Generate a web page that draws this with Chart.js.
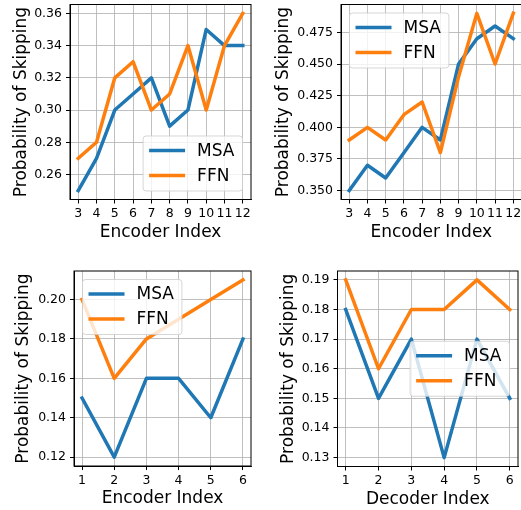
<!DOCTYPE html>
<html>
<head>
<meta charset="utf-8">
<script src="https://cdn.jsdelivr.net/npm/chart.js@4.4.0/dist/chart.umd.min.js"></script>
<style>
html, body { margin: 0; padding: 0; background: #fff; overflow: hidden; width: 521px; height: 510px; }
canvas { position: absolute; }
</style>
</head>
<body>
<canvas id="c1" width="260" height="255" style="left:0;top:0"></canvas>
<canvas id="c2" width="271" height="255" style="left:260px;top:0"></canvas>
<canvas id="c3" width="260" height="255" style="left:0;top:255px"></canvas>
<canvas id="c4" width="261" height="255" style="left:260px;top:255px"></canvas>
<script>
// indices on the x axes
const encoderIdxA = [3, 4, 5, 6, 7, 8, 9, 10, 11, 12];
const encoderIdxB = [1, 2, 3, 4, 5, 6];
const decoderIdx = [1, 2, 3, 4, 5, 6];

// top left
const p1Msa = [0.25, 0.27, 0.30, 0.31, 0.32, 0.29, 0.30, 0.35, 0.34, 0.34];
const p1Ffn = [0.27, 0.28, 0.32, 0.33, 0.30, 0.31, 0.34, 0.30, 0.34, 0.36];
const p1YLabels = ['0.26', '0.28', '0.30', '0.32', '0.34', '0.36'];

// top right
const p2Msa = [0.35, 0.37, 0.36, 0.38, 0.40, 0.39, 0.45, 0.47, 0.48, 0.47];
const p2Ffn = [0.39, 0.40, 0.39, 0.41, 0.42, 0.38, 0.44, 0.49, 0.45, 0.49];
const p2YLabels = ['0.350', '0.375', '0.400', '0.425', '0.450', '0.475'];

// bottom left
const p3Msa = [0.15, 0.12, 0.16, 0.16, 0.14, 0.18];
const p3Ffn = [0.20, 0.16, 0.18, 0.19, 0.20, 0.21];
const p3YLabels = ['0.12', '0.14', '0.16', '0.18', '0.20'];

// bottom right
const p4Msa = [0.18, 0.15, 0.17, 0.13, 0.17, 0.15];
const p4Ffn = [0.19, 0.16, 0.18, 0.18, 0.19, 0.18];
const p4YLabels = ['0.13', '0.14', '0.15', '0.16', '0.17', '0.18', '0.19'];

const seriesNames = ['MSA', 'FFN'];
const BLUE = '#1f77b4';
const ORANGE = '#ff7f0e';
const FONT = 'DejaVu Sans';

Chart.defaults.font.family = FONT;
Chart.defaults.color = '#000';

// spines on all four sides + matplotlib style legend box
const frameLegend = {
    id: 'frameLegend',
    afterDraw(chart, args, opts) {
        const ctx = chart.ctx;
        const a = chart.chartArea;
        ctx.save();
        ctx.strokeStyle = '#000';
        ctx.lineWidth = 1;
        ctx.strokeRect(a.left, a.top, a.right - a.left, a.bottom - a.top);

        ctx.font = '17px "' + FONT + '"';
        const sets = chart.data.datasets;
        const textW = Math.max(...sets.map(d => ctx.measureText(d.label).width));
        const w = 6 + 36 + 12 + textW + 8;
        const h = 55;
        const pad = 8.5;
        let x, y;
        if (opts.loc === 'lower right') { x = a.right - pad - w; y = a.bottom - pad - h; }
        else if (opts.loc === 'upper left') { x = a.left + pad; y = a.top + pad; }
        else { x = a.right - pad - w; y = (a.top + a.bottom) / 2 - h / 2; }

        ctx.beginPath();
        ctx.roundRect(x, y, w, h, 3);
        ctx.fillStyle = 'rgba(255,255,255,0.8)';
        ctx.fill();
        ctx.strokeStyle = 'rgba(204,204,204,0.8)';
        ctx.stroke();

        sets.forEach((d, i) => {
            const ry = y + 14.5 + i * 25;
            ctx.beginPath();
            ctx.moveTo(x + 6, ry);
            ctx.lineTo(x + 42, ry);
            ctx.strokeStyle = d.borderColor;
            ctx.lineWidth = 3.5;
            ctx.stroke();
            ctx.fillStyle = '#000';
            ctx.textBaseline = 'middle';
            ctx.textAlign = 'left';
            ctx.fillText(d.label, x + 54, ry + 1);
        });
        ctx.restore();
    }
};

function makePanel(id, p) {
    const yVals = p.yLabels.map(parseFloat);
    const all = p.msa.concat(p.ffn);
    const lo = Math.min(...all), hi = Math.max(...all);
    const ym = (hi - lo) * 0.05;
    const xlo = p.xs[0], xhi = p.xs[p.xs.length - 1];
    const xm = (xhi - xlo) * 0.05;

    const lineStyle = {
        borderWidth: 3.5,
        pointRadius: 0,
        tension: 0,
        fill: false,
        borderJoinStyle: 'round',
        borderCapStyle: 'square'
    };

    new Chart(document.getElementById(id), {
        type: 'line',
        data: {
            datasets: [
                Object.assign({
                    label: seriesNames[0],
                    data: p.xs.map((x, i) => ({ x: x, y: p.msa[i] })),
                    borderColor: BLUE,
                    backgroundColor: BLUE,
                    order: 1
                }, lineStyle),
                Object.assign({
                    label: seriesNames[1],
                    data: p.xs.map((x, i) => ({ x: x, y: p.ffn[i] })),
                    borderColor: ORANGE,
                    backgroundColor: ORANGE,
                    order: 0
                }, lineStyle)
            ]
        },
        options: {
            responsive: false,
            animation: false,
            devicePixelRatio: 1,
            layout: { padding: { top: p.top, right: p.right, left: 0, bottom: 0 } },
            plugins: {
                legend: { display: false },
                tooltip: { enabled: false },
                frameLegend: { loc: p.loc }
            },
            scales: {
                x: {
                    type: 'linear',
                    bounds: 'data',
                    min: xlo - xm,
                    max: xhi + xm,
                    afterBuildTicks: s => { s.ticks = p.xs.map(v => ({ value: v })); },
                    afterFit: s => { s.height = p.xHeight; s.paddingLeft = 0; s.paddingRight = 0; },
                    ticks: {
                        font: { size: 12.5 },
                        color: '#000',
                        padding: 3,
                        maxRotation: 0,
                        autoSkip: false,
                        callback: v => String(v)
                    },
                    grid: { color: '#b0b0b0', lineWidth: 0.8, tickLength: 4, tickColor: '#000', tickWidth: 1 },
                    border: { display: true, color: '#000', width: 1 },
                    title: {
                        display: true,
                        text: p.xTitle,
                        color: '#000',
                        font: { size: 17 },
                        padding: { top: 0, bottom: p.xTitlePad }
                    }
                },
                y: {
                    type: 'linear',
                    bounds: 'data',
                    min: lo - ym,
                    max: hi + ym,
                    afterBuildTicks: s => { s.ticks = yVals.map(v => ({ value: v })); },
                    afterFit: s => { s.width = p.yWidth; s.paddingTop = 0; s.paddingBottom = 0; },
                    ticks: {
                        font: { size: 12.5 },
                        color: '#000',
                        padding: 4,
                        autoSkip: false,
                        callback: (v, i) => p.yLabels[i]
                    },
                    grid: { color: '#b0b0b0', lineWidth: 0.8, tickLength: 4, tickColor: '#000', tickWidth: 1 },
                    border: { display: true, color: '#000', width: 1 },
                    title: {
                        display: true,
                        text: 'Probability of Skipping',
                        color: '#000',
                        font: { size: 17 },
                        padding: { top: p.yTitlePad, bottom: 0 }
                    }
                }
            }
        },
        plugins: [frameLegend]
    });
}

makePanel('c1', {
    xs: encoderIdxA, msa: p1Msa, ffn: p1Ffn, yLabels: p1YLabels,
    xTitle: 'Encoder Index', loc: 'lower right',
    top: 4.5, right: 9, yWidth: 70, xHeight: 55.5, yTitlePad: 11.3, xTitlePad: 12.7
});
makePanel('c2', {
    xs: encoderIdxA, msa: p2Msa, ffn: p2Ffn, yLabels: p2YLabels,
    xTitle: 'Encoder Index', loc: 'upper left',
    top: 4.5, right: 9.5, yWidth: 81, xHeight: 55.5, yTitlePad: 13, xTitlePad: 12.7
});
makePanel('c3', {
    xs: encoderIdxB, msa: p3Msa, ffn: p3Ffn, yLabels: p3YLabels,
    xTitle: 'Encoder Index', loc: 'upper left',
    top: 16, right: 9, yWidth: 74, xHeight: 44, yTitlePad: 13.3, xTitlePad: 1.4
});
makePanel('c4', {
    xs: decoderIdx, msa: p4Msa, ffn: p4Ffn, yLabels: p4YLabels,
    xTitle: 'Decoder Index', loc: 'center right',
    top: 16, right: 3, yWidth: 77.5, xHeight: 43.5, yTitlePad: 18, xTitlePad: 0
});
</script>
</body>
</html>
